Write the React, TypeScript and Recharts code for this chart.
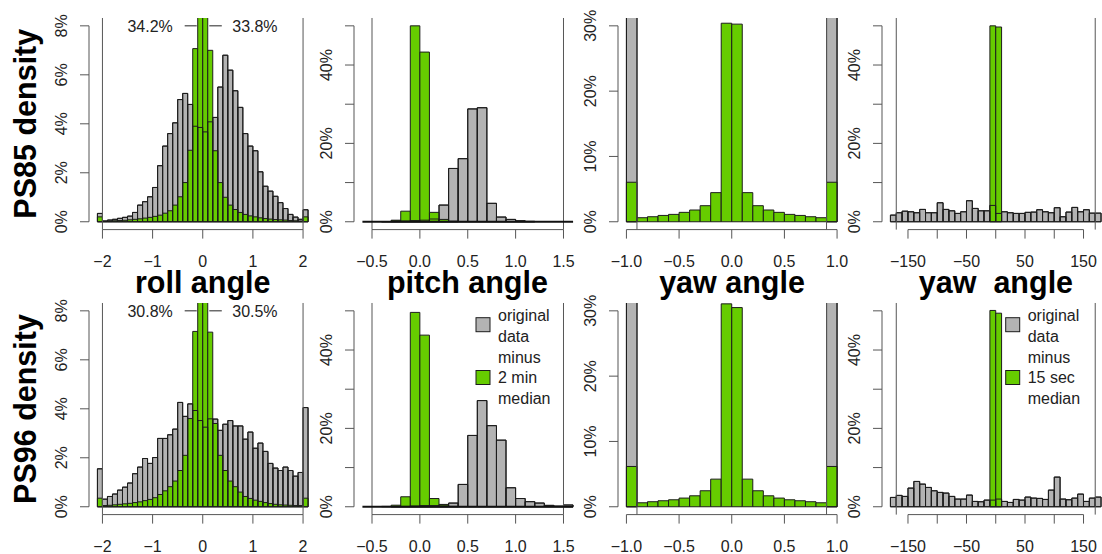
import React from "react";
import { ComposedChart, Bar, XAxis, YAxis, ReferenceLine, ReferenceDot } from "recharts";

const GRAY = "#b3b3b3";
const GREEN = "#66cc00";
const EDGE = "#1c1c1c";
const AXIS = "#555555";
const INK = "#222222";
const FONT = "'Liberation Sans', Arial, Helvetica, sans-serif";

// bin centres
const ROLL_BINS = [-2.05, -1.95, -1.85, -1.75, -1.65, -1.55, -1.45, -1.35, -1.25, -1.15, -1.05, -0.95, -0.85, -0.75, -0.65, -0.55, -0.45, -0.35, -0.25, -0.15, -0.05, 0.05, 0.15, 0.25, 0.35, 0.45, 0.55, 0.65, 0.75, 0.85, 0.95, 1.05, 1.15, 1.25, 1.35, 1.45, 1.55, 1.65, 1.75, 1.85, 1.95, 2.05];
const PITCH_BINS = [-0.55, -0.45, -0.35, -0.25, -0.15, -0.05, 0.05, 0.15, 0.25, 0.35, 0.45, 0.55, 0.65, 0.75, 0.85, 0.95, 1.05, 1.15, 1.25, 1.35, 1.45, 1.55];
const YAW_BINS = [-0.95, -0.85, -0.75, -0.65, -0.55, -0.45, -0.35, -0.25, -0.15, -0.05, 0.05, 0.15, 0.25, 0.35, 0.45, 0.55, 0.65, 0.75, 0.85, 0.95];
const YAW_DEG_BINS = [-175, -165, -155, -145, -135, -125, -115, -105, -95, -85, -75, -65, -55, -45, -35, -25, -15, -5, 5, 15, 25, 35, 45, 55, 65, 75, 85, 95, 105, 115, 125, 135, 145, 155, 165, 175];

// density in % per bin: original data (grey) and data minus running median (green)
const ROLL_PS85_ORIG = [0.34, 0.03, 0.07, 0.1, 0.14, 0.18, 0.23, 0.38, 0.68, 0.82, 1.02, 1.4, 2.29, 3.09, 3.6, 4.04, 4.99, 5.24, 4.79, 3.9, 3.85, 3.67, 4.08, 4.26, 5.5, 6.8, 6.19, 5.35, 4.67, 3.6, 3.09, 2.9, 2.04, 1.45, 1.25, 1.04, 0.78, 0.54, 0.3, 0.19, 0.1, 0.49];
const ROLL_PS85_FILT = [0.2, 0.02, 0.03, 0.04, 0.05, 0.06, 0.08, 0.1, 0.12, 0.15, 0.18, 0.22, 0.27, 0.35, 0.45, 0.68, 1.02, 1.6, 2.92, 7.07, 34.2, 33.8, 7.0, 2.9, 1.6, 1.0, 0.68, 0.5, 0.38, 0.3, 0.24, 0.2, 0.16, 0.13, 0.11, 0.09, 0.08, 0.07, 0.05, 0.04, 0.03, 0.2];
const ROLL_PS96_ORIG = [1.55, 0.31, 0.42, 0.52, 0.68, 0.8, 0.97, 1.35, 1.62, 1.97, 1.77, 2.01, 2.79, 2.79, 2.94, 3.17, 4.26, 3.69, 4.2, 3.93, 3.52, 3.25, 3.59, 3.58, 3.12, 3.37, 3.52, 3.3, 3.3, 2.76, 3.05, 2.39, 2.6, 2.26, 1.77, 1.58, 1.48, 1.62, 1.48, 1.25, 1.4, 4.05];
const ROLL_PS96_FILT = [0.35, 0.05, 0.06, 0.08, 0.1, 0.12, 0.14, 0.17, 0.2, 0.25, 0.3, 0.37, 0.5, 0.65, 0.82, 1.05, 1.48, 2.1, 3.6, 7.16, 30.8, 30.5, 7.13, 3.4, 2.1, 1.48, 1.05, 0.82, 0.6, 0.42, 0.34, 0.27, 0.22, 0.17, 0.13, 0.1, 0.08, 0.07, 0.06, 0.05, 0.05, 0.35];

const PITCH_PS85_ORIG = [0, 0, 0.05, 0.2, 0.2, 0.3, 0.4, 0.7, 4.26, 13.6, 16.1, 28.8, 29.1, 4.7, 1.2, 0.6, 0.25, 0.1, 0, 0, 0, 0];
const PITCH_PS85_FILT = [0, 0, 0, 0.4, 2.7, 50.0, 43.3, 2.4, 0.6, 0.15, 0, 0, 0, 0, 0, 0, 0, 0, 0, 0, 0, 0];
const PITCH_PS96_ORIG = [0, 0, 0, 0.05, 0.1, 0.2, 0.3, 0.3, 0.4, 0.94, 5.7, 18.2, 27.1, 20.7, 17.0, 4.85, 2.1, 1.3, 0.95, 0.35, 0.15, 0.45];
const PITCH_PS96_FILT = [0, 0, 0.1, 0.4, 2.55, 49.6, 43.8, 2.1, 0.6, 0.1, 0, 0, 0, 0, 0, 0, 0, 0, 0, 0, 0, 0];

const YAW_PS85_ORIG = [48, 0, 0, 0, 0, 0, 0, 0, 0, 0, 0, 0, 0, 0, 0, 0, 0, 0, 0, 48];
const YAW_PS85_FILT = [6.05, 0.62, 0.77, 0.97, 1.13, 1.44, 1.8, 2.46, 4.46, 30.4, 30.26, 4.46, 2.46, 1.8, 1.44, 1.13, 0.97, 0.77, 0.62, 6.05];
const YAW_PS96_ORIG = [47, 0, 0, 0, 0, 0, 0, 0, 0, 0, 0, 0, 0, 0, 0, 0, 0, 0, 0, 47];
const YAW_PS96_FILT = [6.17, 0.61, 0.77, 0.92, 1.07, 1.33, 1.68, 2.45, 4.23, 31.07, 30.5, 4.23, 2.45, 1.68, 1.33, 1.07, 0.92, 0.77, 0.61, 6.17];

const YAW_DEG_PS85_ORIG = [1.7, 2.3, 2.7, 2.55, 2.3, 3.15, 2.3, 2.3, 4.85, 3.15, 2.8, 2.13, 2.55, 5.37, 3.4, 2.8, 2.8, 4.17, 2.13, 2.55, 2.3, 2.13, 2.13, 2.4, 2.47, 3.07, 2.55, 2.3, 3.58, 1.28, 2.47, 3.66, 2.55, 3.07, 2.2, 2.2];
const YAW_DEG_PS85_FILT = [0, 0, 0, 0, 0, 0, 0, 0, 0, 0, 0, 0, 0, 0, 0, 0, 0, 50.0, 49.7, 0, 0, 0, 0, 0, 0, 0, 0, 0, 0, 0, 0, 0, 0, 0, 0, 0];
const YAW_DEG_PS96_ORIG = [2.38, 2.9, 2.64, 4.76, 6.46, 5.78, 4.93, 4.08, 3.66, 3.49, 2.64, 1.96, 1.96, 2.98, 1.36, 1.28, 1.7, 1.7, 1.96, 1.36, 1.1, 1.87, 1.7, 2.47, 2.21, 2.13, 1.87, 4.25, 7.57, 1.96, 1.79, 2.21, 3.23, 1.36, 2.21, 2.47];
const YAW_DEG_PS96_FILT = [0, 0, 0, 0, 0, 0, 0, 0, 0, 0, 0, 0, 0, 0, 0, 0, 0, 50.1, 49.4, 0, 0, 0, 0, 0, 0, 0, 0, 0, 0, 0, 0, 0, 0, 0, 0, 0];

// axis ticks and labels
const ROLL_X_TICKS = [-2, -1, 0, 1, 2];
const ROLL_X_LABELS = ["\u22122", "\u22121", "0", "1", "2"];
const PITCH_X_TICKS = [-0.5, 0, 0.5, 1, 1.5];
const PITCH_X_LABELS = ["\u22120.5", "0.0", "0.5", "1.0", "1.5"];
const YAW_X_TICKS = [-1, -0.5, 0, 0.5, 1];
const YAW_X_LABELS = ["\u22121.0", "\u22120.5", "0.0", "0.5", "1.0"];
const YAW_DEG_X_TICKS = [-150, -100, -50, 0, 50, 100, 150];
const YAW_DEG_X_LABELS = ["\u2212150", "", "\u221250", "", "50", "", "150"];

const ROLL_Y_TICKS = [0, 2, 4, 6, 8];
const ROLL_Y_LABELS = ["0%", "2%", "4%", "6%", "8%"];
const HALF_Y_TICKS = [0, 10, 20, 30, 40, 50];
const HALF_Y_LABELS = ["0%", "", "20%", "", "40%", ""];
const YAW_Y_TICKS = [0, 10, 20, 30];
const YAW_Y_LABELS = ["0%", "10%", "20%", "30%"];

const ROLL_PS85_NOTES = ["34.2%", "33.8%"];
const ROLL_PS96_NOTES = ["30.8%", "30.5%"];

const ROW_LABELS = ["PS85 density", "PS96 density"];
const COL_TITLES = ["roll angle", "pitch angle", "yaw angle", "yaw  angle"];
const LEGEND_2MIN = ["original", "data", "minus", "2 min", "median"];
const LEGEND_15SEC = ["original", "data", "minus", "15 sec", "median"];

// layout (px)
const ROW_TOP = [17.9, 303.2];
const COL_LEFT = [89, 353.7, 618.3, 882.2];
const PLOT_W = 227.5;
const PLOT_H = 211.6;
const YW = 60;
const MT = 10;
const MR = 22;
const XH = 50;

type PanelSpec = {
  bins: number[];
  orig: number[];
  filt: number[];
  range: [number, number];
  yMax: number;
  xTicks: number[];
  xLabels: string[];
  yTicks: number[];
  yLabels: string[];
  marks: number[];
  zeroLine?: boolean;
  notes?: string[];
};

const ROWS: PanelSpec[][] = [
  [
    { bins: ROLL_BINS, orig: ROLL_PS85_ORIG, filt: ROLL_PS85_FILT, range: [-2.1, 2.1], yMax: 8, xTicks: ROLL_X_TICKS, xLabels: ROLL_X_LABELS, yTicks: ROLL_Y_TICKS, yLabels: ROLL_Y_LABELS, marks: [-2, 2], notes: ROLL_PS85_NOTES },
    { bins: PITCH_BINS, orig: PITCH_PS85_ORIG, filt: PITCH_PS85_FILT, range: [-0.6, 1.6], yMax: 50, xTicks: PITCH_X_TICKS, xLabels: PITCH_X_LABELS, yTicks: HALF_Y_TICKS, yLabels: HALF_Y_LABELS, marks: [-0.5, 1.5], zeroLine: true },
    { bins: YAW_BINS, orig: YAW_PS85_ORIG, filt: YAW_PS85_FILT, range: [-1, 1], yMax: 30, xTicks: YAW_X_TICKS, xLabels: YAW_X_LABELS, yTicks: YAW_Y_TICKS, yLabels: YAW_Y_LABELS, marks: [-0.9, 0.9] },
    { bins: YAW_DEG_BINS, orig: YAW_DEG_PS85_ORIG, filt: YAW_DEG_PS85_FILT, range: [-180, 180], yMax: 50, xTicks: YAW_DEG_X_TICKS, xLabels: YAW_DEG_X_LABELS, yTicks: HALF_Y_TICKS, yLabels: HALF_Y_LABELS, marks: [-170, 170] },
  ],
  [
    { bins: ROLL_BINS, orig: ROLL_PS96_ORIG, filt: ROLL_PS96_FILT, range: [-2.1, 2.1], yMax: 8, xTicks: ROLL_X_TICKS, xLabels: ROLL_X_LABELS, yTicks: ROLL_Y_TICKS, yLabels: ROLL_Y_LABELS, marks: [-2, 2], notes: ROLL_PS96_NOTES },
    { bins: PITCH_BINS, orig: PITCH_PS96_ORIG, filt: PITCH_PS96_FILT, range: [-0.6, 1.6], yMax: 50, xTicks: PITCH_X_TICKS, xLabels: PITCH_X_LABELS, yTicks: HALF_Y_TICKS, yLabels: HALF_Y_LABELS, marks: [-0.5, 1.5], zeroLine: true },
    { bins: YAW_BINS, orig: YAW_PS96_ORIG, filt: YAW_PS96_FILT, range: [-1, 1], yMax: 30, xTicks: YAW_X_TICKS, xLabels: YAW_X_LABELS, yTicks: YAW_Y_TICKS, yLabels: YAW_Y_LABELS, marks: [-0.9, 0.9] },
    { bins: YAW_DEG_BINS, orig: YAW_DEG_PS96_ORIG, filt: YAW_DEG_PS96_FILT, range: [-180, 180], yMax: 50, xTicks: YAW_DEG_X_TICKS, xLabels: YAW_DEG_X_LABELS, yTicks: HALF_Y_TICKS, yLabels: HALF_Y_LABELS, marks: [-170, 170] },
  ],
];

function HistPanel({ p, row, col }: { p: PanelSpec; row: number; col: number }) {
  const [b0, b1] = p.range;
  const pad = (b1 - b0) * 0.04;
  const xDomain: [number, number] = [b0 - pad, b1 + pad];
  const yDomain: [number, number] = [-p.yMax * 0.04, p.yMax * 1.04];
  const data = p.bins.map((x, i) => ({ x, orig: p.orig[i], filt: p.filt[i] }));
  // just under one bin wide, so recharts keeps the exact width
  const barSize = PLOT_W / (1.08 * p.bins.length) - 0.02;

  const xTick = (t: any) => {
    const i = p.xTicks.indexOf(t.payload.value);
    return (
      <text x={t.x} y={t.y + 28.5} textAnchor="middle" fontSize={16} fill={INK} fontFamily={FONT}>
        {p.xLabels[i] ?? ""}
      </text>
    );
  };
  const yTick = (t: any) => {
    const i = p.yTicks.indexOf(t.payload.value);
    const bx = t.x - 13;
    return (
      <text x={bx} y={t.y} transform={`rotate(-90 ${bx} ${t.y})`} textAnchor="middle" fontSize={16} fill={INK} fontFamily={FONT}>
        {p.yLabels[i] ?? ""}
      </text>
    );
  };

  return (
    <div style={{ position: "absolute", left: COL_LEFT[col] - YW, top: ROW_TOP[row] - MT }}>
      <ComposedChart
        width={YW + PLOT_W + MR}
        height={MT + PLOT_H + XH}
        data={data}
        margin={{ top: MT, right: MR, bottom: 0, left: 0 }}
        barCategoryGap={0}
        barGap={0}
      >
        <XAxis xAxisId="a" dataKey="x" type="number" domain={xDomain} allowDataOverflow ticks={p.xTicks} interval={0} height={XH} axisLine={false} stroke={AXIS} tickLine={{ stroke: AXIS }} tickSize={9} tickMargin={0} tick={xTick} />
        <XAxis xAxisId="b" dataKey="x" type="number" domain={xDomain} allowDataOverflow hide />
        <XAxis xAxisId="c" dataKey="x" type="number" domain={xDomain} allowDataOverflow hide />
        <YAxis type="number" domain={yDomain} allowDataOverflow ticks={p.yTicks} interval={0} width={YW} axisLine={false} stroke={AXIS} tickLine={{ stroke: AXIS }} tickSize={9} tickMargin={0} tick={yTick} />

        {p.marks.map((m) => (
          <ReferenceLine key={m} xAxisId="a" x={m} stroke={AXIS} strokeWidth={1} />
        ))}
        <ReferenceLine xAxisId="a" segment={[{ x: p.xTicks[0], y: yDomain[0] }, { x: p.xTicks[p.xTicks.length - 1], y: yDomain[0] }]} stroke={AXIS} ifOverflow="visible" />
        <ReferenceLine xAxisId="a" segment={[{ x: xDomain[0], y: 0 }, { x: xDomain[0], y: p.yMax }]} stroke={AXIS} ifOverflow="visible" />

        <Bar xAxisId="a" dataKey="orig" fill={GRAY} stroke={EDGE} strokeWidth={1} barSize={barSize} isAnimationActive={false} />
        <Bar xAxisId="b" dataKey="filt" fill={GREEN} stroke={EDGE} strokeWidth={1} barSize={barSize} isAnimationActive={false} />
        <Bar xAxisId="c" dataKey="orig" fill="none" stroke={EDGE} strokeWidth={1} barSize={barSize} isAnimationActive={false} />

        {p.zeroLine && (
          <ReferenceLine xAxisId="a" segment={[{ x: b0, y: 0 }, { x: b1, y: 0 }]} stroke="#111111" strokeWidth={2} ifOverflow="visible" />
        )}
        {p.notes && (
          <>
            <ReferenceLine xAxisId="a" segment={[{ x: -0.36, y: p.yMax }, { x: -0.12, y: p.yMax }]} stroke={INK} ifOverflow="visible" />
            <ReferenceLine xAxisId="a" segment={[{ x: 0.13, y: p.yMax }, { x: 0.38, y: p.yMax }]} stroke={INK} ifOverflow="visible" />
            <ReferenceDot xAxisId="a" x={-1.05} y={p.yMax} r={0} fill="none" stroke="none" label={{ value: p.notes[0], position: "center", fontSize: 16, fill: INK, fontFamily: FONT }} />
            <ReferenceDot xAxisId="a" x={1.04} y={p.yMax} r={0} fill="none" stroke="none" label={{ value: p.notes[1], position: "center", fontSize: 16, fill: INK, fontFamily: FONT }} />
          </>
        )}
      </ComposedChart>
    </div>
  );
}

function LegendBox({ x, lines }: { x: number; lines: string[] }) {
  const baselines = [321, 341.8, 362.6, 383.4, 404.2];
  return (
    <g>
      <rect x={x} y={317.7} width={14} height={14} fill={GRAY} stroke={EDGE} />
      <rect x={x} y={370.5} width={14} height={14} fill={GREEN} stroke={EDGE} />
      {lines.map((t, i) => (
        <text key={i} x={x + 22} y={baselines[i]} fontSize={16} fill={INK}>
          {t}
        </text>
      ))}
    </g>
  );
}

export default function App() {
  return (
    <div style={{ position: "absolute", left: 0, top: 0, width: 1102, height: 554, overflow: "hidden", background: "#fff", fontFamily: FONT }}>
      {ROWS.map((r, ri) => r.map((p, ci) => <HistPanel key={`${ri}-${ci}`} p={p} row={ri} col={ci} />))}
      <svg width={1102} height={554} style={{ position: "absolute", left: 0, top: 0, pointerEvents: "none", fontFamily: FONT }}>
        {ROW_LABELS.map((t, ri) => (
          <text key={t} transform={`translate(36 ${ROW_TOP[ri] + PLOT_H / 2}) rotate(-90)`} textAnchor="middle" fontSize={30.5} fontWeight="bold" fill="#000">
            {t}
          </text>
        ))}
        {COL_TITLES.map((t, ci) => (
          <text key={ci} x={COL_LEFT[ci] + PLOT_W / 2} y={293} textAnchor="middle" fontSize={30.5} fontWeight="bold" fill="#000" xmlSpace="preserve" style={{ whiteSpace: "pre" }}>
            {t}
          </text>
        ))}
        <LegendBox x={476} lines={LEGEND_2MIN} />
        <LegendBox x={1005.7} lines={LEGEND_15SEC} />
      </svg>
    </div>
  );
}
